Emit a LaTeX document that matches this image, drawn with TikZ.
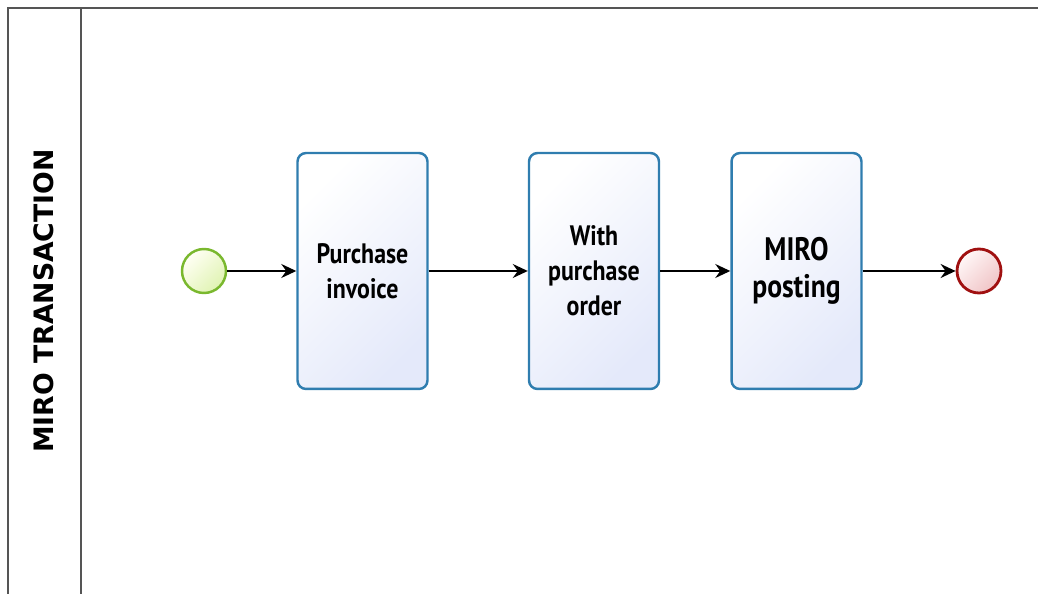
\documentclass[tikz,border=0pt]{standalone}
\usepackage{fontspec}
\setmainfont{DejaVu Sans}
\newfontfamily\taskfont{PT Sans}[FakeStretch=0.85]
\usetikzlibrary{arrows.meta, positioning}

\definecolor{taskline}{RGB}{47,125,175}
\definecolor{taskfill}{RGB}{228,233,250}
\definecolor{startline}{RGB}{122,184,46}
\definecolor{startfill}{RGB}{224,243,178}
\definecolor{endline}{RGB}{160,16,16}
\definecolor{endfill}{RGB}{240,196,198}
\definecolor{frame}{RGB}{85,85,85}

\tikzset{
    task/.style={draw=taskline, line width=1.4pt, rounded corners=0.17cm,
        top color=white, bottom color=taskfill, shading angle=45,
        minimum width=2.6cm, minimum height=4.72cm, align=center,
        font=\taskfont\fontsize{16}{20}\selectfont\bfseries},
    startev/.style={circle, draw=startline, line width=1.4pt,
        top color=yellow!4, bottom color=startfill, shading angle=45, minimum size=0.88cm},
    endev/.style={circle, draw=endline, line width=1.6pt,
        top color=red!3, bottom color=endfill, shading angle=45, minimum size=0.88cm},
    flow/.style={-{Stealth[length=0.3cm,width=0.28cm,inset=0.1cm]}, line width=1pt}
}

\begin{document}
\begin{tikzpicture}[x=0.02cm, y=-0.02cm]
    \useasboundingbox (0,0) rectangle (1038,594);
    % Pool frame and lane header
    \draw[line width=1.1pt, frame] (8,596) -- (8,8) -- (1040,8);
    \draw[line width=1.1pt, frame] (81,8) -- (81,596);
    \node[rotate=90, font=\fontsize{15.2}{17}\selectfont\bfseries] (lane) at (44,301) {MIRO TRANSACTION};
    % Events and tasks
    \node[startev] (start) at (204,271) {};
    \node[task] (invoice) at (362.5,271) {Purchase\\invoice};
    \node[task] (order) at (594,271) {With\\purchase\\order};
    \node[task, font=\taskfont\fontsize{18.5}{21}\selectfont\bfseries] (posting) at (796.5,271) {MIRO\\posting};
    \node[endev] (finish) at (979,271) {};
    % Sequence flows
    \draw[flow] (start) -- (invoice);
    \draw[flow] (invoice) -- (order);
    \draw[flow] (order) -- (posting);
    \draw[flow] (posting) -- (finish);
\end{tikzpicture}
\end{document}
